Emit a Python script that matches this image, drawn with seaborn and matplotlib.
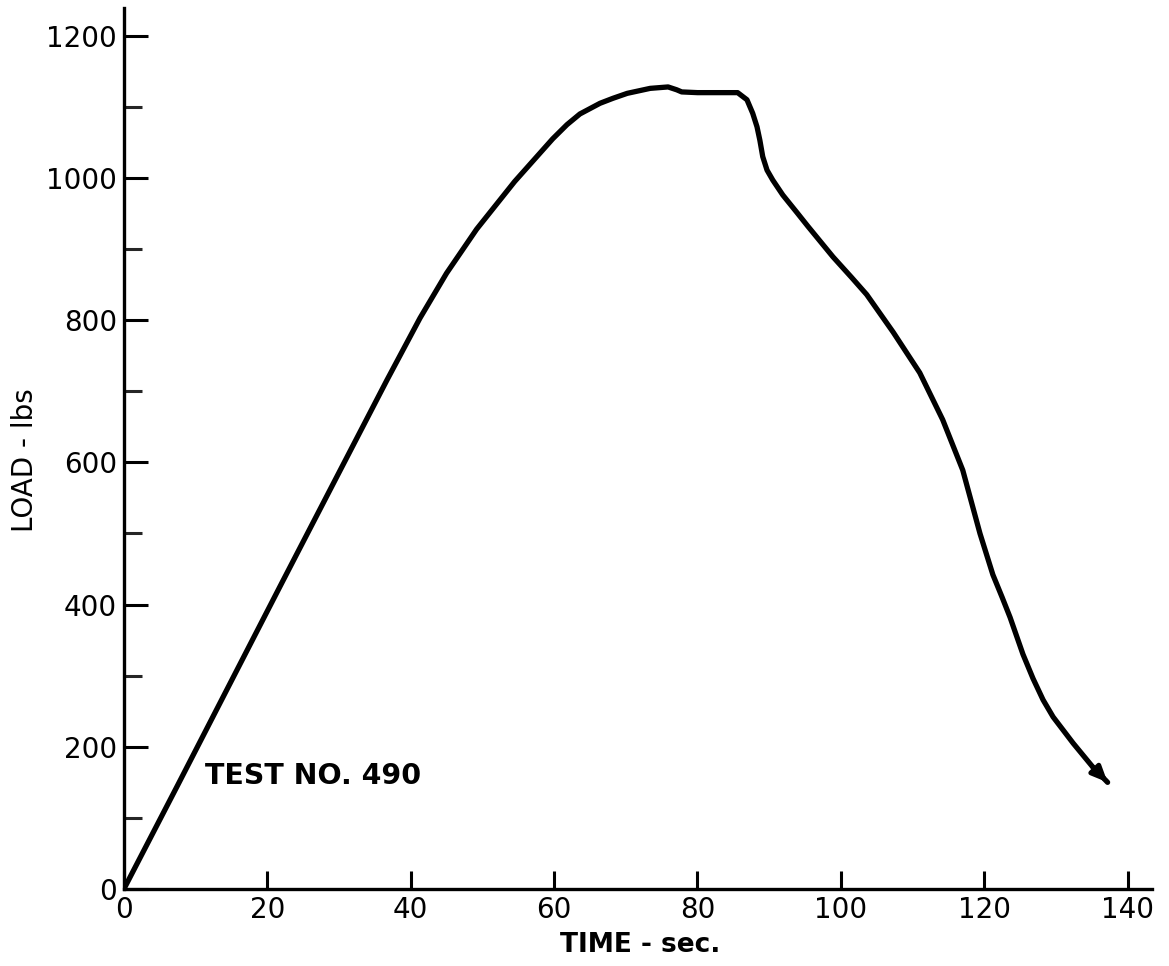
import pandas as pd
import seaborn as sns
import matplotlib.pyplot as plt
from matplotlib.ticker import MultipleLocator

# Load vs time trace
time_sec = [0, 7.5, 14.8, 22.0, 29.5, 36.7, 41.3, 45.0, 49.2, 54.5, 59.8, 61.8,
            63.6, 66.4, 68.2, 70.2, 73.4, 75.9, 77.1, 77.8, 80.0, 83.0, 85.6,
            86.9, 87.7, 88.3, 88.7, 89.1, 89.7, 90.5, 91.9, 93.9, 95.4, 98.9,
            101.5, 103.6, 107.3, 111.0, 114.2, 117.0, 119.4, 121.2, 122.5, 123.6,
            125.4, 126.8, 128.2, 129.6, 132.4, 135.1, 137.2]
load_lbs = [0, 146, 289, 430, 576, 716, 803, 866, 928, 995, 1055, 1075,
            1090, 1105, 1112, 1119, 1126, 1128, 1124, 1121, 1120, 1120, 1120,
            1110, 1091, 1072, 1053, 1030, 1011, 997, 976, 951, 932, 889,
            860, 836, 783, 726, 660, 589, 500, 442, 410, 382,
            330, 296, 266, 242, 205, 172, 150]

x_ticks = [0, 20, 40, 60, 80, 100, 120, 140]
y_ticks = [0, 200, 400, 600, 800, 1000, 1200]

df = pd.DataFrame({'time': time_sec, 'load': load_lbs})

sns.set_style('ticks')
plt.rcParams['font.family'] = ['DejaVu Sans']
plt.rcParams['text.color'] = 'black'

fig = plt.figure(figsize=(11.69, 9.66), dpi=100)
ax = fig.add_axes([0.106, 0.0797, 0.8795, 0.912])

sns.lineplot(data=df, x='time', y='load', ax=ax, color='black', linewidth=3.8,
             sort=False, estimator=None)

# arrow head at the end of the trace
ax.annotate('', xy=(time_sec[-1], load_lbs[-1]), xytext=(time_sec[-2], load_lbs[-2]),
            arrowprops=dict(arrowstyle='-|>,head_length=0.9,head_width=0.4',
                            color='black', lw=3.5, shrinkA=0, shrinkB=0))

ax.set_xlim(0, 143.4)
ax.set_ylim(0, 1239)
ax.set_xticks(x_ticks)
ax.set_yticks(y_ticks)
ax.yaxis.set_minor_locator(MultipleLocator(100))

ax.tick_params(axis='both', which='major', direction='in', width=2.2,
               labelsize=20, pad=5, colors='black')
ax.tick_params(axis='x', which='major', length=13)
ax.tick_params(axis='y', which='major', length=17)
ax.tick_params(axis='y', which='minor', direction='in', length=13, width=2.2)

sns.despine(ax=ax)
for side in ['left', 'bottom']:
    ax.spines[side].set_linewidth(2.4)
    ax.spines[side].set_color('black')

ax.set_xlabel('TIME - sec.', fontsize=19, fontweight='bold', color='black')
ax.set_ylabel('LOAD - lbs', fontsize=20, color='black')
ax.xaxis.set_label_coords(0.502, -0.0636)
ax.yaxis.set_label_coords(-0.0963, 0.487)
ax.xaxis.label.set_va('center')
ax.yaxis.label.set_va('center')

ax.text(11.3, 159, 'TEST NO. 490', fontsize=20.5, fontweight='bold',
        color='black', ha='left', va='center')

fig.savefig('out.png', dpi=100)
